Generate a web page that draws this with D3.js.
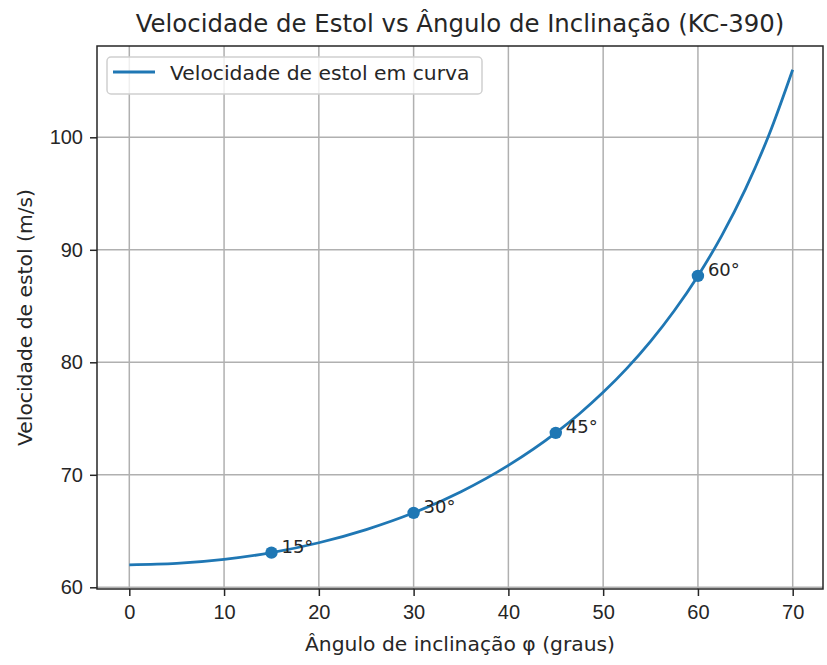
<!DOCTYPE html>
<html>
<head>
<meta charset="utf-8">
<script src="https://cdn.jsdelivr.net/npm/d3@7"></script>
<style>
  html, body { margin: 0; padding: 0; background: #fff; }
  svg { display: block; font-family: "DejaVu Sans", sans-serif; }
</style>
</head>
<body>
<svg id="chart" width="827" height="665"></svg>
<script>
// ---- Data ----
const angles = [0, 5, 10, 15, 20, 25, 30, 35, 40, 45, 47.5, 50, 52.5, 55, 57.5, 60, 62.5, 65, 67.5, 70];
const speeds = [62.00, 62.12, 62.48, 63.08, 63.96, 65.13, 66.62, 68.50, 70.84, 73.73, 75.43, 77.33, 79.46, 81.86, 84.58, 87.68, 91.24, 95.37, 100.22, 106.01];
const markAngles = [15, 30, 45, 60];
const markSpeeds = [63.08, 66.62, 73.73, 87.68];
const markLabels = ["15°", "30°", "45°", "60°"];
const xTicks = [0, 10, 20, 30, 40, 50, 60, 70];
const yTicks = [60, 70, 80, 90, 100];
const titleText = "Velocidade de Estol vs Ângulo de Inclinação (KC-390)";
const xLabel = "Ângulo de inclinação φ (graus)";
const yLabel = "Velocidade de estol (m/s)";
const legendLabel = "Velocidade de estol em curva";

const color = "#1f77b4";
const textColor = "#262626";

const svg = d3.select("#chart");
const plot = { left: 97, right: 823, top: 46, bottom: 589 };

const x = d3.scaleLinear().domain([0, 70]).range([129.3, 792.7]);
const y = d3.scaleLinear().domain([60, 100]).range([587.3, 137.3]);

// grid
const grid = svg.append("g");
grid.selectAll("line.vx").data(xTicks).join("line")
  .attr("x1", d => x(d)).attr("x2", d => x(d))
  .attr("y1", plot.top).attr("y2", plot.bottom)
  .attr("stroke", "#b0b0b0").attr("stroke-width", 1.5);
grid.selectAll("line.hy").data(yTicks).join("line")
  .attr("y1", d => y(d)).attr("y2", d => y(d))
  .attr("x1", plot.left).attr("x2", plot.right)
  .attr("stroke", "#b0b0b0").attr("stroke-width", 1.5);

// axes
const xAxis = svg.append("g")
  .attr("transform", `translate(0,${plot.bottom})`)
  .call(d3.axisBottom(x).tickValues(xTicks).tickSize(7).tickPadding(9).tickSizeOuter(0));
const yAxis = svg.append("g")
  .attr("transform", `translate(${plot.left},0)`)
  .call(d3.axisLeft(y).tickValues(yTicks).tickSize(7).tickPadding(7).tickSizeOuter(0));
[xAxis, yAxis].forEach(a => {
  a.select(".domain").remove();
  a.selectAll(".tick line").attr("stroke", textColor).attr("stroke-width", 1.5);
  a.selectAll(".tick text").attr("fill", textColor).style("font-size", "20px");
});

// frame
svg.append("rect")
  .attr("x", plot.left).attr("y", plot.top)
  .attr("width", plot.right - plot.left).attr("height", plot.bottom - plot.top)
  .attr("fill", "none").attr("stroke", textColor).attr("stroke-width", 1.5);

// line
const data = angles.map((a, i) => [a, speeds[i]]);
svg.append("path")
  .datum(data)
  .attr("fill", "none")
  .attr("stroke", color)
  .attr("stroke-width", 2.8)
  .attr("d", d3.line().x(d => x(d[0])).y(d => y(d[1])).curve(d3.curveMonotoneX));

// markers
const marks = markAngles.map((a, i) => ({ a, v: markSpeeds[i], label: markLabels[i] }));
svg.selectAll("circle.m").data(marks).join("circle")
  .attr("cx", d => x(d.a)).attr("cy", d => y(d.v)).attr("r", 6.2)
  .attr("fill", color);
svg.selectAll("text.m").data(marks).join("text")
  .attr("x", d => x(d.a) + 10).attr("y", d => y(d.v) + 0.5)
  .attr("fill", textColor).style("font-size", "18px")
  .text(d => d.label);

// title and labels
svg.append("text")
  .attr("x", (plot.left + plot.right) / 2).attr("y", 32)
  .attr("text-anchor", "middle").attr("fill", textColor)
  .style("font-size", "24.4px").text(titleText);
svg.append("text")
  .attr("x", (plot.left + plot.right) / 2).attr("y", 651)
  .attr("text-anchor", "middle").attr("fill", textColor)
  .style("font-size", "20.3px").text(xLabel);
svg.append("text")
  .attr("transform", `translate(32,${(plot.top + plot.bottom) / 2}) rotate(-90)`)
  .attr("text-anchor", "middle").attr("fill", textColor)
  .style("font-size", "20.3px").text(yLabel);

// legend
const lg = svg.append("g");
lg.append("rect")
  .attr("x", 107).attr("y", 57).attr("width", 375).attr("height", 37)
  .attr("rx", 4).attr("fill", "#fff").attr("fill-opacity", 0.8)
  .attr("stroke", "#d0d0d0").attr("stroke-width", 1.5);
lg.append("line")
  .attr("x1", 113).attr("x2", 155).attr("y1", 72).attr("y2", 72)
  .attr("stroke", color).attr("stroke-width", 2.8);
lg.append("text")
  .attr("x", 170).attr("y", 80).attr("fill", textColor)
  .style("font-size", "20.3px").text(legendLabel);
</script>
</body>
</html>
